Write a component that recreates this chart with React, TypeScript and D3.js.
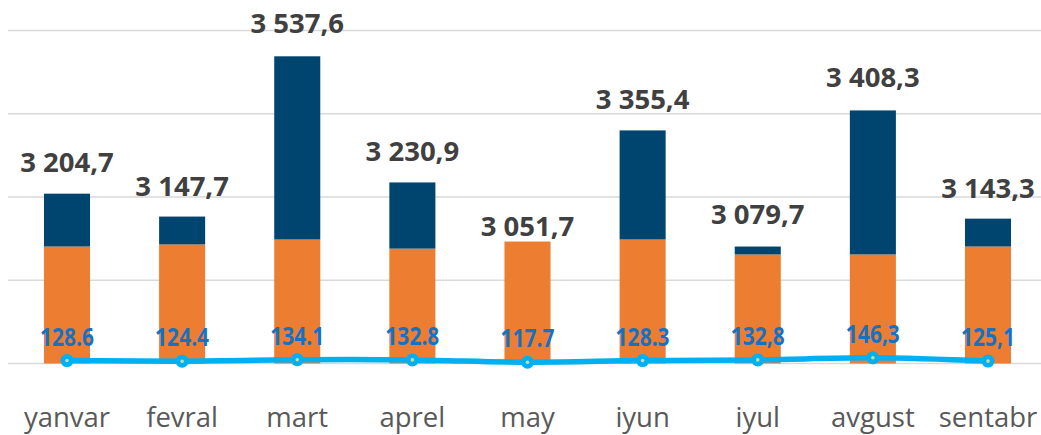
import React from 'react';
import * as d3 from 'd3';

const months = ['yanvar', 'fevral', 'mart', 'aprel', 'may', 'iyun', 'iyul', 'avgust', 'sentabr'];
const totals = [3204.7, 3147.7, 3537.6, 3230.9, 3051.7, 3355.4, 3079.7, 3408.3, 3143.3];
const orangeValues = [3081, 3086, 3098, 3076, 3093, 3098, 3062, 3062, 3081];
const darkValues = [127, 67, 440, 159, 0, 262, 19, 346, 67];
const lineValues = [128.6, 124.4, 134.1, 132.8, 117.7, 128.3, 132.8, 146.3, 125.1];
const lineLabels = ['128.6', '124.4', '134.1', '132.8', '117.7', '128.3', '132,8', '146,3', '125,1'];
const yTicks = [2800, 3000, 3200, 3400, 3600];

const W = 1041;
const H = 435;

const fmtTotal = (v: number) => d3.format(',.1f')(v).replace(/,/g, ' ').replace('.', ',');

export default function App() {
  const x = d3.scalePoint<string>().domain(months).range([67, 988]);
  const barW = x.step() * 0.4;
  const y = d3.scaleLinear().domain([2800, 3600]).range([363.5, 30.5]);
  const y2 = d3.scaleLinear().domain([0, 2400]).range([380.5, 8]);
  const base = y(2800);

  const line = d3
    .line<number>()
    .x((_, i) => x(months[i]) as number)
    .y((d) => y2(d))
    .curve(d3.curveCatmullRom.alpha(0.5));

  return (
    <svg width={W} height={H} style={{ position: 'absolute', left: 0, top: 0, background: '#fff' }}>
      <rect x={0} y={0} width={W} height={H} fill="#fff" />
      {yTicks.map((t) => (
        <line key={t} x1={8} x2={W} y1={y(t)} y2={y(t)} stroke="#d9d9d9" strokeWidth={1.6} />
      ))}
      {months.map((m, i) => {
        const cx = x(m) as number;
        const oTop = y(orangeValues[i]);
        const dTop = y(orangeValues[i] + darkValues[i]);
        return (
          <g key={m}>
            <rect x={cx - barW / 2} y={oTop} width={barW} height={base - oTop} fill="#ED7D31" />
            {darkValues[i] > 0 && (
              <rect x={cx - barW / 2} y={dTop} width={barW} height={oTop - dTop} fill="#00456F" />
            )}
          </g>
        );
      })}
      <path d={line(lineValues) || ''} fill="none" stroke="#00B0F0" strokeWidth={5.5} />
      {lineValues.map((v, i) => (
        <g key={i}>
          <circle cx={x(months[i]) as number} cy={y2(v)} r={6.5} fill="#00B0F0" />
          <circle cx={x(months[i]) as number} cy={y2(v)} r={1.8} fill="#c9dba0" />
        </g>
      ))}
      {months.map((m, i) => (
        <text
          key={'t' + m}
          x={x(m) as number}
          y={y(totals[i]) - 23}
          textAnchor="middle"
          fontFamily="'Open Sans', sans-serif"
          fontWeight={700}
          fontSize={27.5}
          fill="#404040"
        >
          {fmtTotal(totals[i])}
        </text>
      ))}
      {months.map((m, i) => (
        <text
          key={'l' + m}
          transform={`translate(${x(m) as number},${y2(lineValues[i]) - 15}) scale(0.84,1)`}
          textAnchor="middle"
          fontFamily="'Open Sans', sans-serif"
          fontWeight={700}
          fontSize={25}
          fill="#1472C4"
        >
          {lineLabels[i]}
        </text>
      ))}
      {months.map((m) => (
        <text
          key={'x' + m}
          x={x(m) as number}
          y={427}
          textAnchor="middle"
          fontFamily="'Open Sans', sans-serif"
          fontSize={27.5}
          fill="#595959"
        >
          {m}
        </text>
      ))}
    </svg>
  );
}
